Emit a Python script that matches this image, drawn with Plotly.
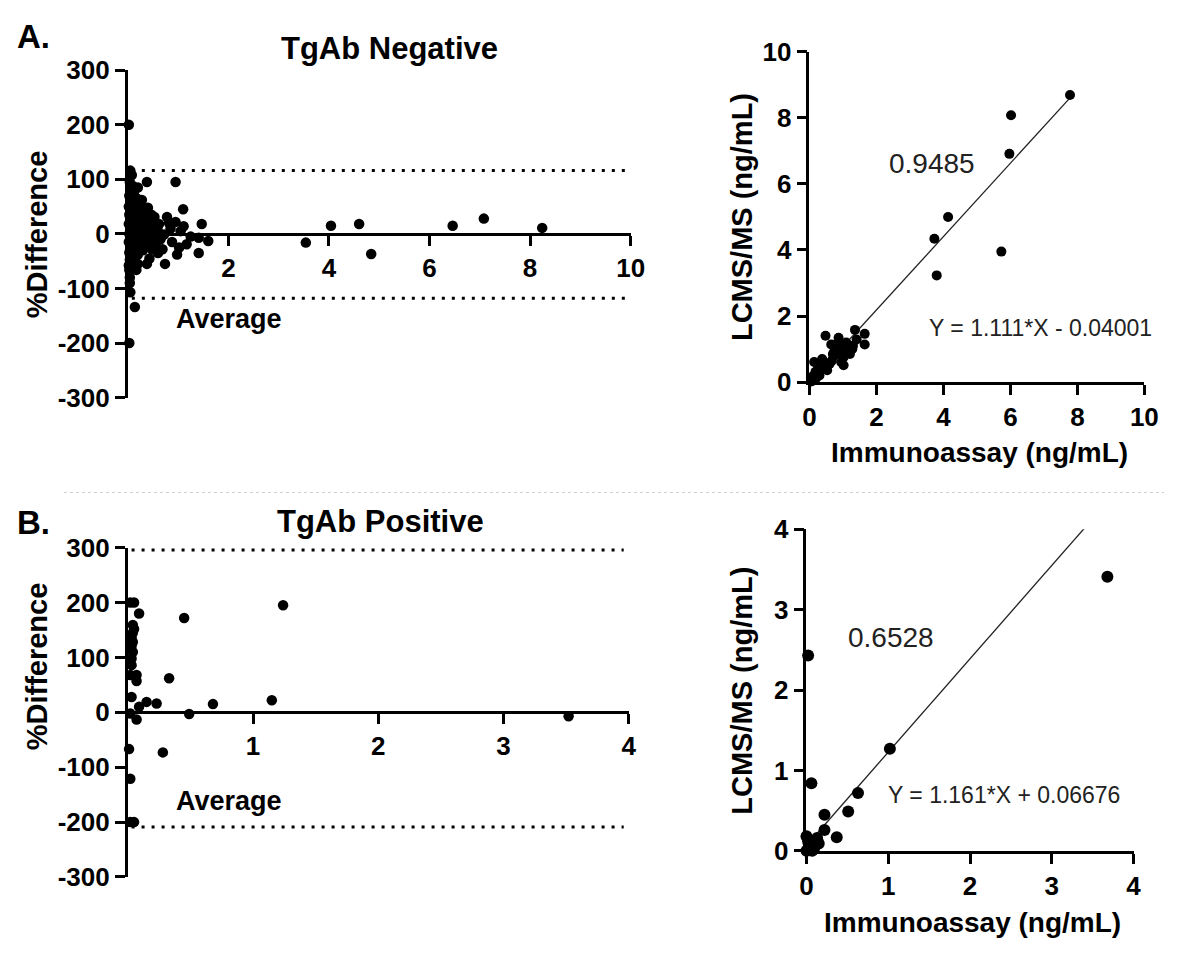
import plotly.graph_objects as go

W, H = 1178, 953
FONT = "Liberation Sans, Arial, sans-serif"

# ---------------- data ----------------
# A. TgAb Negative - Bland-Altman (Average vs %Difference)
neg_ba_avg = [0.02, 0.03, 0.05, 0.08, 0.04, 0.10, 0.06, 0.12, 0.03, 0.08, 0.15, 0.02, 0.05, 0.10,
              0.03, 0.07, 0.12, 0.02, 0.05, 0.09, 0.03, 0.06, 0.11, 0.02, 0.05, 0.09, 0.03, 0.07,
              0.04, 0.14, 0.02, 0.03, 0.17, 0.04, 0.04, 0.05, 0.14,
              0.20, 0.25, 0.33, 0.38, 0.30, 0.22, 0.40, 0.45, 0.28, 0.50, 0.35, 0.18, 0.42, 0.25,
              0.55, 0.30, 0.43, 0.20, 0.53, 0.59, 0.48, 0.62, 0.38,
              0.08, 0.14, 0.18, 0.10, 0.16, 0.22, 0.27, 0.33, 0.36, 0.24, 0.12, 0.18, 0.28, 0.06,
              0.20, 0.47, 0.52, 0.60, 0.40, 0.13,
              0.72, 0.69, 0.74, 0.78, 0.95, 0.95, 1.10, 1.11, 1.47, 1.41, 1.60, 1.17, 1.02, 0.98,
              1.41, 0.85, 0.65, 0.88, 1.25, 1.05, 0.82,
              3.54, 4.04, 4.60, 4.84, 6.46, 7.08, 8.24]
neg_ba_diff = [200, -200, 116, 108, 95, 88, 80, 75, 70, 62, 58, 50, 44, 40,
               35, 28, 22, 18, 12, 6, 0, -5, -10, -15, -22, -28, -34, -40,
               -48, -50, -58, -66, -66, -80, -90, -107, -134,
               85, 52, 46, 95, 38, 30, 25, 15, 10, 5, 0, -5, -12, -18,
               -20, -30, -45, -38, 31, 8, -28, 18, -55,
               30, 45, 20, -20, -30, 5, -8, 20, -22, 40, 10, 65, 62, -60,
               -55, 35, -10, -35, 48, -42,
               -1, -28, -55, 31, 95, 22, 45, 14, 18, -7, -13, -19, -25, -38,
               -35, 10, -10, -15, -5, 5, 20,
               -16, 15, 18, -37, 15, 28, 11]
neg_limits = [116, -118]

# A. TgAb Negative - correlation (Immunoassay vs LCMS/MS)
neg_ia = [7.78, 6.02, 5.97, 4.14, 3.73, 3.80, 5.73, 0.48, 1.36, 1.65, 1.65, 0.87, 1.16, 1.41,
          0.92, 0.82, 1.02, 0.67, 0.53, 0.33, 0.18, 0.09, 0.05, 0.23, 0.38, 0.72, 1.21, 0.65,
          1.02, 0.14, 0.28, 0.53, 1.10, 0.95, 0.12, 0.20, 0.75, 1.28,
          0.40, 0.60, 0.85, 1.05, 0.30, 0.45, 0.70, 1.30, 0.95]
neg_lc = [8.69, 8.08, 6.91, 5.00, 4.34, 3.23, 3.95, 1.40, 1.58, 1.46, 1.14, 1.34, 1.05, 1.29,
          1.09, 0.95, 0.75, 0.65, 0.56, 0.46, 0.31, 0.17, 0.02, 0.56, 0.70, 0.79, 0.85, 1.14,
          0.51, 0.61, 0.31, 0.36, 1.20, 0.60, 0.05, 0.12, 0.95, 1.00,
          0.50, 0.55, 1.20, 0.95, 0.20, 0.40, 0.85, 1.10, 0.80]
neg_fit = [1.111, -0.04001]   # slope, intercept
neg_r = "0.9485"

# B. TgAb Positive - Bland-Altman
pos_ba_avg = [0.02, 0.05, 0.09, 0.45, 1.24, 0.04, 0.05, 0.04, 0.03, 0.04, 0.03, 0.04, 0.03, 0.03,
              0.02, 0.07, 0.07, 0.33, 0.03, 0.09, 0.15, 0.23, 0.02, 0.07, 0.49, 0.68, 1.15,
              0.01, 0.28, 0.02, 0.02, 0.05, 3.52]
pos_ba_diff = [200, 200, 180, 172, 195, 159, 152, 145, 136, 128, 121, 110, 98, 86,
               68, 68, 57, 62, 28, 10, 19, 16, -2, -13, -3, 15, 22,
               -67, -73, -121, -200, -200, -7]
pos_limits = [296, -209]

# B. TgAb Positive - correlation
pos_ia = [3.68, 0.02, 0.06, 1.02, 0.63, 0.51, 0.22, 0.22, 0.37, 0.13, 0.00, 0.02, 0.05, 0.00,
          0.09, 0.15, 0.03, 0.07]
pos_lc = [3.41, 2.43, 0.84, 1.27, 0.72, 0.49, 0.45, 0.26, 0.17, 0.16, 0.18, 0.12, 0.04, 0.00,
          0.02, 0.09, 0.08, 0.00]
pos_fit = [1.161, 0.06676]
pos_r = "0.6528"

ba_yticks = [300, 200, 100, 0, -100, -200, -300]
ba_yticktext = ["300", "200", "100", "0", "-100", "-200", "-300"]
neg_ba_xticks = [2, 4, 6, 8, 10]
pos_ba_xticks = [1, 2, 3, 4]
neg_corr_ticks = [0, 2, 4, 6, 8, 10]
pos_corr_ticks = [0, 1, 2, 3, 4]


# ---------------- helpers ----------------
def px(x):
    return x / W


def py(y):
    return 1 - y / H


fig = go.Figure()


def add_scatter(x, y, xa, ya, size=10):
    fig.add_trace(go.Scatter(x=x, y=y, mode="markers", xaxis=xa, yaxis=ya,
                             marker=dict(color="black", size=size, line=dict(width=0)),
                             cliponaxis=False, hoverinfo="skip"))


def add_fit(xvals, fit, xa, ya):
    xs = [min(xvals), max(xvals)]
    ys = [fit[0] * v + fit[1] for v in xs]
    fig.add_trace(go.Scatter(x=xs, y=ys, mode="lines", xaxis=xa, yaxis=ya,
                             line=dict(color="#222", width=1.3), hoverinfo="skip"))


def add_limits(limits, xstart, xend, xa, ya):
    for lv in limits:
        fig.add_trace(go.Scatter(x=[xstart, xend], y=[lv, lv], mode="lines",
                                 xaxis=xa, yaxis=ya,
                                 line=dict(color="black", width=3, dash="3px,7px"),
                                 hoverinfo="skip"))


add_limits(neg_limits, 0.08, 9.9, "x", "y")
add_scatter(neg_ba_avg, neg_ba_diff, "x", "y", size=10.5)
add_fit(neg_ia, neg_fit, "x2", "y2")
add_scatter(neg_ia, neg_lc, "x2", "y2")
add_limits(pos_limits, 0.03, 3.96, "x3", "y3")
add_scatter(pos_ba_avg, pos_ba_diff, "x3", "y3", size=10.5)
add_fit(pos_ia, pos_fit, "x4", "y4")
add_scatter(pos_ia, pos_lc, "x4", "y4", size=12)

tickfont = dict(family=FONT, size=26, color="black", weight="bold")
axis_common = dict(showline=True, linecolor="black", linewidth=2.7, ticks="outside",
                   ticklen=10, tickwidth=2.7, tickcolor="black", showgrid=False,
                   zeroline=False, tickfont=tickfont, fixedrange=True)

tl_y = [py(395), py(57)]
bl_y = [py(890), py(550)]

fig.update_layout(
    width=W, height=H, margin=dict(l=0, r=0, t=0, b=0),
    paper_bgcolor="white", plot_bgcolor="white", showlegend=False,
    xaxis=dict(domain=[px(123), px(635)], range=[0, 10], tickvals=neg_ba_xticks,
               anchor="free", position=(tl_y[0] + tl_y[1]) / 2, **axis_common),
    yaxis=dict(domain=tl_y, range=[-300, 300], tickvals=ba_yticks, ticktext=ba_yticktext,
               anchor="x", **axis_common),
    xaxis2=dict(domain=[px(817), px(1158)], range=[0, 10], tickvals=neg_corr_ticks,
                anchor="y2", **axis_common),
    yaxis2=dict(domain=[py(379), py(38)], range=[0, 10], tickvals=neg_corr_ticks,
                anchor="x2", **axis_common),
    xaxis3=dict(domain=[px(123), px(633)], range=[0, 4], tickvals=pos_ba_xticks,
                anchor="free", position=(bl_y[0] + bl_y[1]) / 2, **axis_common),
    yaxis3=dict(domain=bl_y, range=[-300, 300], tickvals=ba_yticks, ticktext=ba_yticktext,
                anchor="x3", **axis_common),
    xaxis4=dict(domain=[px(814), px(1147)], range=[0, 4], tickvals=pos_corr_ticks,
                anchor="y4", **axis_common),
    yaxis4=dict(domain=[py(863), py(531)], range=[0, 4], tickvals=pos_corr_ticks,
                anchor="x4", **axis_common),
)


def ann(text, x, y, size, bold=True, angle=0, color="black"):
    fig.add_annotation(text=text, x=px(x), y=py(y), xref="paper", yref="paper",
                       showarrow=False, textangle=angle, xanchor="center", yanchor="middle",
                       font=dict(family=FONT, size=size, color=color,
                                 weight="bold" if bold else "normal"))


ann("A.", 27, 22, 33)
ann("B.", 27, 524, 33)
ann("TgAb Negative", 389, 35, 31)
ann("TgAb Positive", 380, 523, 31)
ann("Average", 226, 314, 27)
ann("Average", 226, 812, 27)
ann("%Difference", 30, 226, 29, angle=-90)
ann("%Difference", 30, 672, 29, angle=-90)
ann("Immunoassay (ng/mL)", 990, 452, 28)
ann("Immunoassay (ng/mL)", 983, 937, 28)
ann("LCMS/MS (ng/mL)", 749, 209, 29, angle=-90)
ann("LCMS/MS (ng/mL)", 748, 698, 29, angle=-90)
ann(neg_r, 942, 153, 28, bold=False, color="#222")
ann(pos_r, 900, 643, 28, bold=False, color="#222")
ann("Y = %s*X - %s" % (neg_fit[0], abs(neg_fit[1])), 1052, 323, 23, bold=False, color="#222")
ann("Y = %s*X + %s" % (pos_fit[0], pos_fit[1]), 1015, 805, 23, bold=False, color="#222")

# separator between panels
fig.add_shape(type="line", xref="paper", yref="paper", x0=px(58), x1=1, y0=py(493), y1=py(493),
              line=dict(color="#cfcfcf", width=1, dash="dot"))

fig.write_html("out.html")
